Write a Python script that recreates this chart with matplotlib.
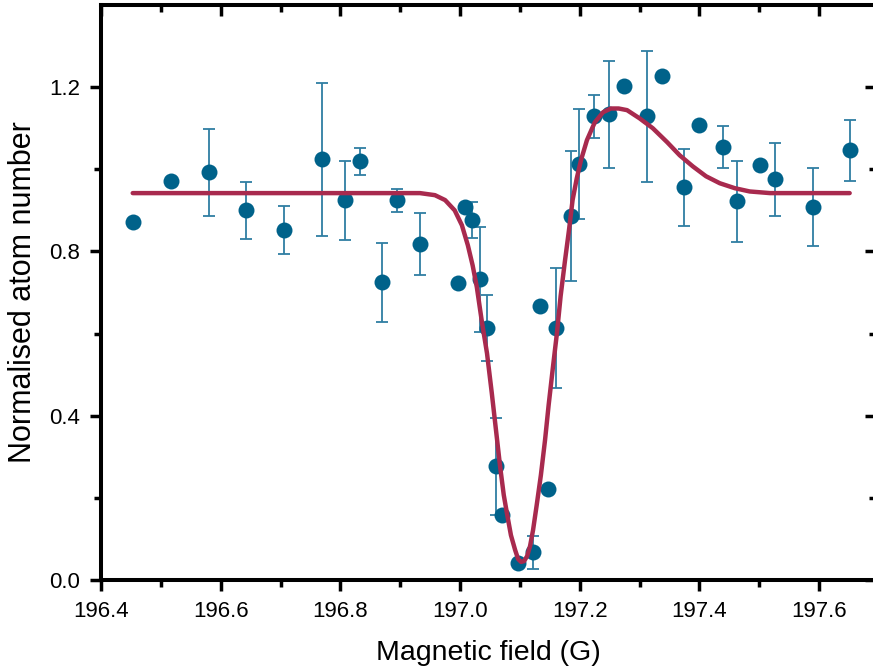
import numpy as np
import matplotlib.pyplot as plt

plt.rcParams['font.family'] = ['Liberation Sans', 'DejaVu Sans']

# mesures
champ = [196.4535, 196.517, 196.580, 196.642, 196.706, 196.769, 196.808, 196.833,
         196.869, 196.894, 196.933, 196.996, 197.008, 197.020, 197.033, 197.045,
         197.060, 197.070, 197.097, 197.122, 197.133, 197.147, 197.160, 197.185,
         197.199, 197.224, 197.249, 197.274, 197.312, 197.337, 197.374, 197.399,
         197.439, 197.462, 197.501, 197.526, 197.589, 197.651]
atomes = [0.871, 0.971, 0.993, 0.900, 0.852, 1.024, 0.925, 1.019,
          0.725, 0.925, 0.818, 0.723, 0.908, 0.876, 0.732, 0.613,
          0.277, 0.158, 0.041, 0.068, 0.667, 0.221, 0.613, 0.886,
          1.012, 1.129, 1.134, 1.202, 1.129, 1.226, 0.956, 1.107,
          1.054, 0.922, 1.010, 0.976, 0.908, 1.046]
erreurs = [0, 0, 0.106, 0.069, 0.058, 0.187, 0.096, 0.032,
           0.096, 0.028, 0.076, 0, 0, 0.044, 0.128, 0.080,
           0.118, 0, 0, 0.040, 0, 0, 0.146, 0.158,
           0.134, 0.053, 0.130, 0, 0.159, 0, 0.094, 0,
           0.052, 0.098, 0, 0.089, 0.095, 0.074]

# courbe d'ajustement
fit_x = [196.453, 196.933, 196.958, 196.975, 196.991, 197.003, 197.013, 197.021,
         197.028, 197.036, 197.045, 197.053, 197.060, 197.067, 197.073, 197.078,
         197.085, 197.092, 197.097, 197.102, 197.107, 197.112, 197.117, 197.122,
         197.128, 197.135, 197.142, 197.148, 197.155, 197.162, 197.168, 197.175,
         197.182, 197.188, 197.195, 197.202, 197.212, 197.225, 197.239, 197.252,
         197.265, 197.279, 197.300, 197.322, 197.346, 197.367, 197.389, 197.411,
         197.434, 197.459, 197.484, 197.518, 197.651]
fit_y = [0.942, 0.942, 0.937, 0.925, 0.900, 0.864, 0.815, 0.766,
         0.713, 0.633, 0.552, 0.455, 0.365, 0.275, 0.207, 0.165,
         0.109, 0.073, 0.051, 0.044, 0.046, 0.058, 0.083, 0.122,
         0.182, 0.255, 0.341, 0.426, 0.516, 0.603, 0.691, 0.774,
         0.852, 0.925, 0.978, 1.022, 1.071, 1.114, 1.139, 1.148,
         1.148, 1.144, 1.124, 1.100, 1.066, 1.034, 1.007, 0.983,
         0.966, 0.954, 0.946, 0.942, 0.942]

champ = np.array(champ)
atomes = np.array(atomes)
erreurs = np.array(erreurs)
avec = erreurs > 0

fig = plt.figure(figsize=(8.73, 6.71), dpi=100)
ax = fig.add_axes([101/873, 91/671, 775/873, 575/671])

ax.errorbar(champ[avec], atomes[avec], yerr=erreurs[avec], fmt='none',
            ecolor='#2f7ea3', elinewidth=1.3, capsize=4.5, capthick=1.3, zorder=2)
ax.plot(champ, atomes, 'o', color='#00628a', markersize=11.5, markeredgewidth=0, zorder=3)
ax.plot(fit_x, fit_y, color='#a82a4e', linewidth=3.2, solid_joinstyle='round',
        solid_capstyle='round', zorder=4)

ax.set_xlim(196.4, 197.695)
ax.set_ylim(0, 1.4)
ax.set_xticks([196.4, 196.6, 196.8, 197.0, 197.2, 197.4, 197.6])
ax.set_xticks(np.arange(196.5, 197.7, 0.2), minor=True)
ax.set_yticks([0.0, 0.4, 0.8, 1.2])
ax.set_yticks([0.2, 0.6, 1.0], minor=True)
ax.set_yticklabels(['0.0', '0.4', '0.8', '1.2'])

for s in ax.spines.values():
    s.set_linewidth(2.9)

ax.tick_params(which='both', direction='out', width=2.5, labelsize=16, pad=7)
ax.tick_params(which='major', length=8)
ax.tick_params(which='minor', length=5)
ax.tick_params(which='both', top=True, right=True)
# ticks du haut et de droite vers l'intérieur
for t in ax.xaxis.get_major_ticks() + ax.xaxis.get_minor_ticks():
    t.tick2line.set_marker(3)
for t in ax.yaxis.get_major_ticks() + ax.yaxis.get_minor_ticks():
    t.tick2line.set_marker(0)

ax.set_xlabel('Magnetic field (G)', fontsize=20.5, labelpad=13)
ax.set_ylabel('Normalised atom number', fontsize=22, labelpad=8)

plt.savefig('out.png', dpi=100)
